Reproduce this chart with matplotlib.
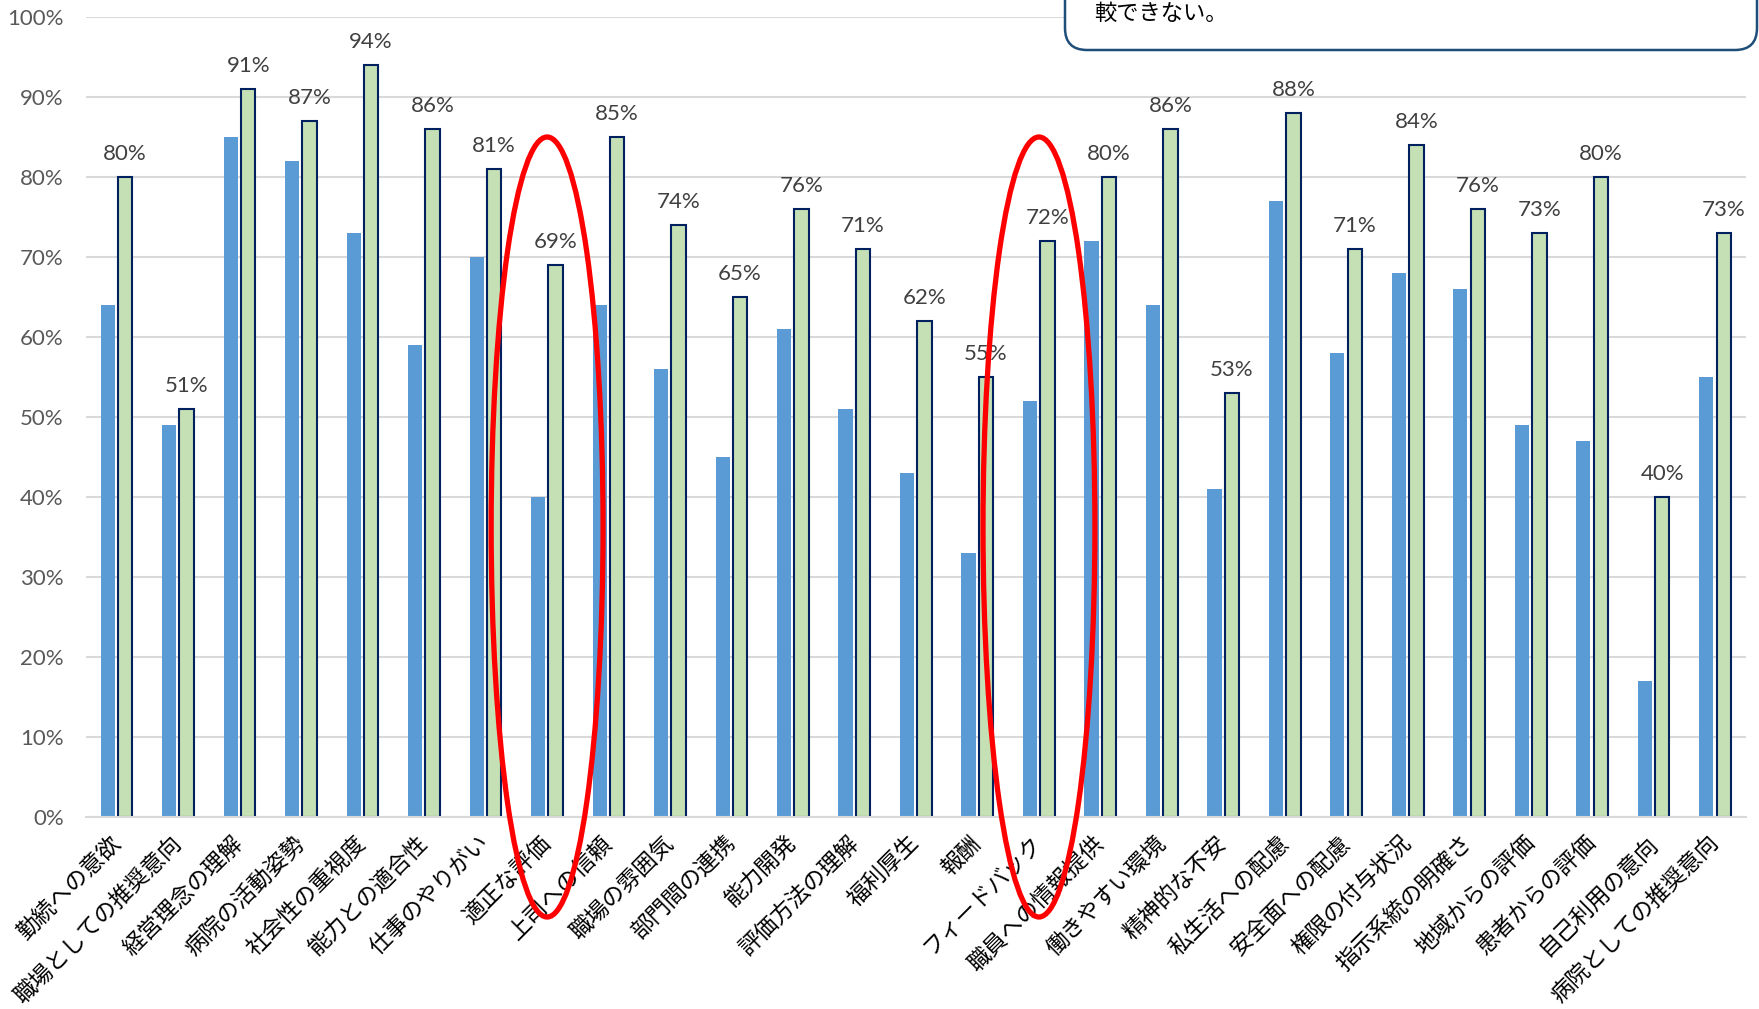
import matplotlib
matplotlib.use("Agg")
import matplotlib.pyplot as plt
from matplotlib.patches import Ellipse, FancyBboxPatch
from matplotlib.transforms import IdentityTransform
import numpy as np

plt.rcParams["font.family"] = ["Lato", "Noto Sans CJK JP", "DejaVu Sans"]

# ── survey items and scores (%) ──────────────────────────────────────────────
categories = [
    "勤続への意欲", "職場としての推奨意向", "経営理念の理解", "病院の活動姿勢",
    "社会性の重視度", "能力との適合性", "仕事のやりがい", "適正な評価",
    "上司への信頼", "職場の雰囲気", "部門間の連携", "能力開発",
    "評価方法の理解", "福利厚生", "報酬", "フィードバック",
    "職員への情報提供", "働きやすい環境", "精神的な不安", "私生活への配慮",
    "安全面への配慮", "権限の付与状況", "指示系統の明確さ", "地域からの評価",
    "患者からの評価", "自己利用の意向", "病院としての推奨意向",
]
blue_values = [64, 49, 85, 82, 73, 59, 70, 40, 64, 56, 45, 61, 51, 43, 33, 52,
               72, 64, 41, 77, 58, 68, 66, 49, 47, 17, 55]
green_values = [80, 51, 91, 87, 94, 86, 81, 69, 85, 74, 65, 76, 71, 62, 55, 72,
                80, 86, 53, 88, 71, 84, 76, 73, 80, 40, 73]
highlighted = ["適正な評価", "フィードバック"]
note_text = "較できない。"

W, H, DPI = 1759, 1009, 100
fig = plt.figure(figsize=(W / DPI, H / DPI), dpi=DPI)
ax = fig.add_axes([86 / W, 192 / H, (1746 - 86) / W, (817 - 17) / H])

x = np.arange(len(categories))
ax.bar(x - 0.146, blue_values, width=0.23, color="#5b9bd5", zorder=2)
ax.bar(x + 0.138, green_values, width=0.235, color="#c5e0b4",
       edgecolor="#002060", linewidth=1.5, zorder=2)

for xi, v in zip(x, green_values):
    ax.annotate(f"{v:.0f}%", (xi + 0.138, v), xytext=(0, 12),
                textcoords="offset points", ha="center", va="baseline",
                fontsize=16, color="#404040", zorder=4)

ax.set_xlim(-0.5, len(categories) - 0.5)
ax.set_ylim(0, 100)
ax.set_yticks(np.arange(0, 101, 10))
ax.set_yticklabels([f"{t}%" for t in range(0, 101, 10)],
                   fontsize=16, color="#595959")
ax.yaxis.grid(True, color="#d9d9d9", linewidth=1.5, zorder=0)
ax.set_axisbelow(True)
for s in ["top", "right", "left"]:
    ax.spines[s].set_visible(False)
ax.spines["bottom"].set_color("#d9d9d9")
ax.spines["bottom"].set_linewidth(1.5)
ax.tick_params(axis="y", length=0, pad=16)
ax.tick_params(axis="x", length=0)

ax.set_xticks(x)
ax.set_xticklabels(categories, rotation=45, ha="right", va="center",
                   rotation_mode="anchor", fontsize=16.3,
                   family=["Noto Sans CJK JP", "DejaVu Sans"], color="black")
for lbl in ax.get_xticklabels():
    lbl.set_y(-0.022)

# red ovals around the items of interest
for name in highlighted:
    i = categories.index(name)
    ax.add_patch(Ellipse((i, 36.25), 1.82, 97.5, fill=False, edgecolor="red",
                         linewidth=3.8, clip_on=False, zorder=5))

# callout box in the top-right corner (partly outside the figure)
box = FancyBboxPatch((1065, H - 50), 692, 120,
                     boxstyle="round,pad=0,rounding_size=22",
                     transform=IdentityTransform(), facecolor="white",
                     edgecolor="#1f4e79", linewidth=1.8, zorder=10)
fig.patches.append(box)
fig.text(1094 / W, (H - 13) / H, note_text, fontsize=16,
         family=["Noto Sans CJK JP", "DejaVu Sans"], color="black",
         ha="left", va="center", zorder=11)

fig.savefig("out.png", dpi=DPI, facecolor="white")
